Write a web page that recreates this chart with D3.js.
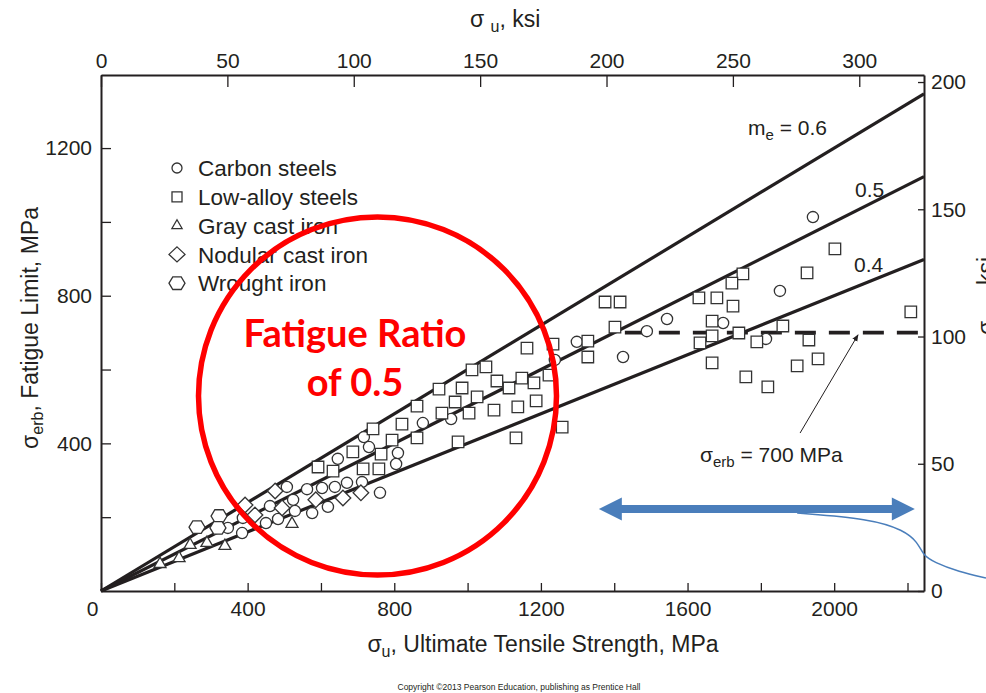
<!DOCTYPE html>
<html>
<head>
<meta charset="utf-8">
<script src="https://cdn.jsdelivr.net/npm/d3@7"></script>
<style>
  html, body { margin: 0; padding: 0; background: #fff; }
  svg { display: block; }
  text { font-family: "Liberation Sans", Arial, Helvetica, sans-serif; fill: #231f20; }
</style>
</head>
<body>
<svg id="chart" width="986" height="693"></svg>
<script>
// Fatigue limit (MPa) against ultimate tensile strength (MPa), by material family
const carbonSteels = [
  [1942,1013],[1852,813],[1697,726],[1814,683],[1544,737],[1489,704],[1424,634],
  [1298,675],[1238,626],[955,466],[878,455],[810,374],[805,344],[761,266],
  [717,417],[731,390],[646,358],[712,295],[671,293],[638,282],[603,279],
  [562,276],[507,282],[619,228],[576,211],[529,217],[524,247],[461,230],
  [483,195],[450,184],[387,198],[385,157],[346,171]
];
const lowAlloySteels = [
  [2002,927],[1926,862],[1751,859],[1721,834],[1631,794],[1680,794],[1724,772],
  [1667,731],[1667,691],[1634,672],[1667,618],[1740,699],[1789,675],[1860,718],
  [1931,680],[1956,629],[1899,610],[1759,580],[1819,553],[2209,756],[1375,783],
  [1416,783],[1402,715],[1328,677],[1328,634],[1233,669],[1162,658],[1222,585],
  [1181,564],[1187,515],[1258,444],[1148,577],[1113,550],[1080,569],[1137,499],
  [1132,415],[1072,490],[1050,607],[1012,599],[985,550],[922,547],[1026,526],
  [966,512],[1004,482],[930,482],[974,404],[862,501],[862,415],[821,452],
  [794,409],[742,439],[764,371],[687,377],[715,331],[758,331],[592,336],[633,325]
];
const grayCastIron = [[161,73],[213,89],[243,125],[289,130],[338,122],[521,182]];
const nodularCastIron = [[475,271],[393,233],[420,206],[494,225],[586,247],[660,252],[709,266]];
const wroughtIron = [[262,173],[322,203],[319,171]];

const ratios = [0.6, 0.5, 0.4];
const ratioLabels = ["0.6", "0.5", "0.4"];
const enduranceCap = 700;          // MPa, horizontal cap line
const capStart = 1429;             // MPa, where the cap line begins
const mpaTicks = d3.range(0, 2201, 200);
const mpaLabels = [0, 400, 800, 1200, 1600, 2000];
const fatigueTicks = d3.range(200, 1201, 200);
const fatigueLabels = [400, 800, 1200];
const ksiTopTicks = d3.range(0, 301, 50);
const ksiRightTicks = d3.range(0, 201, 50);
const legendItems = ["Carbon steels", "Low-alloy steels", "Gray cast iron", "Nodular cast iron", "Wrought iron"];

// Annotation geometry in data units
const rangeArrow = { y: 222, x0: 1358, x1: 2220 };
const bracketCurve = [[1899,211],[2098,196],[2190,165],[2228,132],[2242,98],[2272,78],[2340,52],[2414,35]];
const pointer = { from: [1907, 428], to: [2065, 694] };

const MPA_PER_KSI = 6.894757;
const X_MAX = 2245, Y_MAX = 1398;

const svg = d3.select("#chart");
const x = d3.scaleLinear().domain([0, X_MAX]).range([101, 924]);
const y = d3.scaleLinear().domain([0, Y_MAX]).range([591, 75]);
const xKsi = d3.scaleLinear().domain([0, X_MAX / MPA_PER_KSI]).range([101, 924]);
const yKsi = d3.scaleLinear().domain([0, Y_MAX / MPA_PER_KSI]).range([591, 75]);

const ink = "#231f20";

function styleAxis(g, fontSize) {
  g.selectAll(".domain").attr("stroke", ink).attr("stroke-width", 2);
  g.selectAll(".tick line").attr("stroke", ink).attr("stroke-width", 1.3);
  g.selectAll(".tick text").attr("fill", ink)
    .style("font-family", '"Liberation Sans", Arial, Helvetica, sans-serif')
    .style("font-size", fontSize + "px");
}

// Bottom axis (MPa)
const gB = svg.append("g").attr("transform", `translate(0,${y(0)})`)
  .call(d3.axisBottom(x).tickValues(mpaTicks).tickSizeInner(-8).tickSizeOuter(0).tickPadding(10)
    .tickFormat(d => mpaLabels.includes(d) ? d : ""));
styleAxis(gB, 21);
gB.selectAll(".tick text").filter(d => d === 0).attr("dx", -9);

// Left axis (MPa)
const gL = svg.append("g").attr("transform", `translate(${x(0)},0)`)
  .call(d3.axisLeft(y).tickValues(fatigueTicks).tickSizeInner(-10).tickSizeOuter(0).tickPadding(9)
    .tickFormat(d => fatigueLabels.includes(d) ? d : ""));
styleAxis(gL, 21);

// Top axis (ksi)
const gT = svg.append("g").attr("transform", `translate(0,${y(Y_MAX)})`)
  .call(d3.axisTop(xKsi).tickValues(ksiTopTicks).tickSizeInner(-12).tickSizeOuter(0).tickPadding(7));
styleAxis(gT, 21);

// Right axis (ksi)
const gR = svg.append("g").attr("transform", `translate(${x(X_MAX)},0)`)
  .call(d3.axisRight(yKsi).tickValues(ksiRightTicks).tickSizeInner(-6).tickSizeOuter(0).tickPadding(7));
styleAxis(gR, 21);

// Axis titles
const bt = svg.append("text").attr("x", 543).attr("y", 652).attr("text-anchor", "middle").style("font-size", "23px");
bt.append("tspan").text("σ");
bt.append("tspan").attr("dy", 5).style("font-size", "16px").text("u");
bt.append("tspan").attr("dy", -5).text(", Ultimate Tensile Strength, MPa");

const lt = svg.append("text").attr("transform", "translate(38,328) rotate(-90)").attr("text-anchor", "middle").style("font-size", "23px");
lt.append("tspan").text("σ");
lt.append("tspan").attr("dy", 5).style("font-size", "16px").text("erb");
lt.append("tspan").attr("dy", -5).text(", Fatigue Limit, MPa");

const tt = svg.append("text").attr("x", 470).attr("y", 27).style("font-size", "23px");
tt.append("tspan").text("σ ");
tt.append("tspan").attr("dy", 5).style("font-size", "16px").text("u");
tt.append("tspan").attr("dy", -5).text(", ksi");

const rt = svg.append("text").attr("transform", "translate(994,296) rotate(-90)").attr("text-anchor", "middle").style("font-size", "23px");
rt.append("tspan").text("σ");
rt.append("tspan").attr("dy", 5).style("font-size", "16px").text("erb");
rt.append("tspan").attr("dy", -5).text(", ksi");

// Fatigue ratio lines
const ratioLine = d3.line().x(d => x(d[0])).y(d => y(d[1]));
svg.append("g").selectAll("path").data(ratios).join("path")
  .attr("d", m => ratioLine([[0, 0], [X_MAX, m * X_MAX]]))
  .attr("fill", "none").attr("stroke", ink).attr("stroke-width", 3.2);

// Endurance cap line
svg.append("path")
  .attr("d", ratioLine([[capStart, enduranceCap], [X_MAX, enduranceCap]]))
  .attr("stroke", ink).attr("stroke-width", 3.6).attr("stroke-dasharray", "21,13").attr("fill", "none");

// Marker shapes
const hexPath = (() => {
  const p = d3.path(), w = 8, h = 6.3, s = 4.2;
  p.moveTo(-w, 0); p.lineTo(-s, -h); p.lineTo(s, -h); p.lineTo(w, 0); p.lineTo(s, h); p.lineTo(-s, h); p.closePath();
  return p.toString();
})();
const shapes = {
  circle: d3.symbol(d3.symbolCircle, Math.PI * 5.6 * 5.6)(),
  square: d3.symbol(d3.symbolSquare, 11.5 * 11.5)(),
  triangle: d3.symbol(d3.symbolTriangle, 62)(),
  diamond: "M0,-7.8L7.8,0L0,7.8L-7.8,0Z",
  hexagon: hexPath
};
const legendShapes = {
  circle: d3.symbol(d3.symbolCircle, Math.PI * 5 * 5)(),
  square: d3.symbol(d3.symbolSquare, 10 * 10)(),
  triangle: d3.symbol(d3.symbolTriangle, 45)(),
  diamond: "M0,-7.5L8,0L0,7.5L-8,0Z",
  hexagon: hexPath
};

const series = [
  { data: carbonSteels, shape: "circle" },
  { data: lowAlloySteels, shape: "square" },
  { data: grayCastIron, shape: "triangle" },
  { data: nodularCastIron, shape: "diamond" },
  { data: wroughtIron, shape: "hexagon" }
];

const marks = svg.append("g");
series.forEach(s => {
  marks.append("g").selectAll("path").data(s.data).join("path")
    .attr("d", shapes[s.shape])
    .attr("transform", d => `translate(${x(d[0])},${y(d[1])})`)
    .attr("fill", "#fff").attr("stroke", "#333").attr("stroke-width", 1.3);
});

// Legend
const legend = svg.append("g");
legendItems.forEach((name, i) => {
  const row = legend.append("g").attr("transform", `translate(177,${168 + i * 28.8})`);
  row.append("path").attr("d", legendShapes[series[i].shape])
    .attr("fill", "#fff").attr("stroke", "#333").attr("stroke-width", 1.3);
  row.append("text").attr("x", 21).attr("dy", "0.36em").style("font-size", "22.5px").text(name);
});

// Ratio labels
const l6 = svg.append("text").attr("x", 748).attr("y", 135).style("font-size", "21px");
l6.append("tspan").text("m");
l6.append("tspan").attr("dy", 5).style("font-size", "15px").text("e");
l6.append("tspan").attr("dy", -5).text(" = " + ratioLabels[0]);
svg.append("text").attr("x", 855).attr("y", 197).style("font-size", "21px").text(ratioLabels[1]);
svg.append("text").attr("x", 854).attr("y", 272).style("font-size", "21px").text(ratioLabels[2]);

// Pointer to the cap line
svg.append("defs").append("marker").attr("id", "tip").attr("viewBox", "0 0 10 10")
  .attr("refX", 9).attr("refY", 5).attr("markerWidth", 7).attr("markerHeight", 7)
  .attr("orient", "auto").append("path").attr("d", "M0,1L10,5L0,9Z").attr("fill", ink);
svg.append("line")
  .attr("x1", x(pointer.from[0])).attr("y1", y(pointer.from[1]))
  .attr("x2", x(pointer.to[0])).attr("y2", y(pointer.to[1]))
  .attr("stroke", ink).attr("stroke-width", 1).attr("marker-end", "url(#tip)");
const capLabel = svg.append("text").attr("x", 700).attr("y", 462).style("font-size", "21px");
capLabel.append("tspan").text("σ");
capLabel.append("tspan").attr("dy", 5).style("font-size", "15px").text("erb");
capLabel.append("tspan").attr("dy", -5).text(" = " + enduranceCap + " MPa");

// Highlight ring and callout
svg.append("circle").attr("cx", 377.5).attr("cy", 396).attr("r", 179)
  .attr("fill", "none").attr("stroke", "#ff0000").attr("stroke-width", 5.5);
const callout = svg.append("text").attr("text-anchor", "middle")
  .style("font-family", "Lato, 'Open Sans', sans-serif").style("font-weight", "bold")
  .style("font-size", "38px").style("fill", "#ff0000");
callout.append("tspan").attr("x", 355).attr("y", 347).text("Fatigue Ratio");
callout.append("tspan").attr("x", 355).attr("y", 396).text("of 0.5");

// Blue range arrow with bracket curve
const blue = "#4a7ebb";
svg.append("path")
  .attr("d", d3.line().curve(d3.curveBasis).x(d => x(d[0])).y(d => y(d[1]))(bracketCurve))
  .attr("fill", "none").attr("stroke", blue).attr("stroke-width", 1.5);
const ax0 = x(rangeArrow.x0), ax1 = x(rangeArrow.x1), ay = y(rangeArrow.y);
const head = 23, halfH = 11.5, shaft = 4;
const arrow = d3.path();
arrow.moveTo(ax0, ay);
arrow.lineTo(ax0 + head, ay - halfH);
arrow.lineTo(ax0 + head, ay - shaft);
arrow.lineTo(ax1 - head, ay - shaft);
arrow.lineTo(ax1 - head, ay - halfH);
arrow.lineTo(ax1, ay);
arrow.lineTo(ax1 - head, ay + halfH);
arrow.lineTo(ax1 - head, ay + shaft);
arrow.lineTo(ax0 + head, ay + shaft);
arrow.lineTo(ax0 + head, ay + halfH);
arrow.closePath();
svg.append("path").attr("d", arrow.toString()).attr("fill", blue);

// Credit line
svg.append("text").attr("x", 519).attr("y", 690).attr("text-anchor", "middle")
  .style("font-size", "8.5px").text("Copyright ©2013 Pearson Education, publishing as Prentice Hall");
</script>
</body>
</html>
